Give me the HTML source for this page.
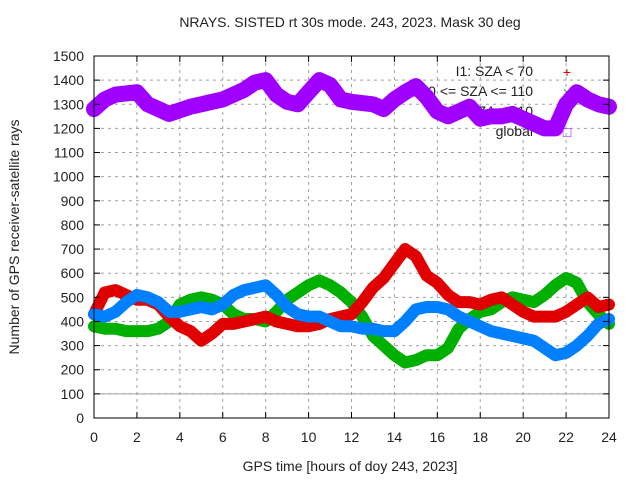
<!DOCTYPE html>
<html><head><meta charset="utf-8"><style>
body{margin:0;background:#fff}
svg text{font-family:"Liberation Sans",sans-serif;font-size:14px;fill:#222}
</style></head><body>
<svg id="c" width="640" height="480" xmlns="http://www.w3.org/2000/svg">
<text x="350" y="27" text-anchor="middle">NRAYS. SISTED rt 30s mode. 243, 2023. Mask 30 deg</text>
<text x="350" y="471" text-anchor="middle">GPS time [hours of doy 243, 2023]</text>
<text transform="translate(19,237) rotate(-90)" text-anchor="middle">Number of GPS receiver-satellite rays</text>
<g id="grid"></g><g id="legend"></g><g id="series"></g><g id="axes"></g>
</svg>
<script>
const hours=[0,0.5,1,1.5,2,2.5,3,3.5,4,4.5,5,5.5,6,6.5,7,7.5,8,8.5,9,9.5,10,10.5,11,11.5,12,12.5,13,13.5,14,14.5,15,15.5,16,16.5,17,17.5,18,18.5,19,19.5,20,20.5,21,21.5,22,22.5,23,23.5,24];
const globalVals=[1280,1320,1340,1345,1350,1300,1280,1260,1275,1290,1300,1310,1320,1340,1360,1390,1400,1340,1310,1300,1350,1400,1380,1320,1310,1305,1300,1280,1320,1350,1375,1330,1270,1250,1270,1290,1240,1250,1250,1260,1240,1220,1200,1200,1300,1350,1320,1300,1290];
const i1Vals=[430,520,530,510,490,490,470,420,380,360,320,350,390,390,400,410,420,400,390,380,380,390,410,420,430,480,540,580,640,700,670,590,560,510,480,480,470,490,500,470,440,420,420,420,440,470,500,460,470];
const i2Vals=[380,370,370,360,360,360,370,400,470,490,500,490,470,430,410,410,400,440,490,520,550,570,550,520,480,420,340,300,260,230,240,260,260,290,370,410,440,450,480,500,490,480,510,550,580,560,480,430,390];
const i3Vals=[430,420,440,480,510,500,480,440,440,450,460,450,470,510,530,540,550,510,460,430,420,420,400,380,380,370,370,360,360,400,450,460,460,450,420,400,380,360,350,340,330,320,290,260,270,300,340,390,410];
const xTicks=[0,2,4,6,8,10,12,14,16,18,20,22,24];
const yTicks=[0,100,200,300,400,500,600,700,800,900,1000,1100,1200,1300,1400,1500];
const legendLabels=["I1: SZA < 70","I2: 70 <= SZA <= 110","I3: SZA > 110","global"];
const X0=94,X1=609,Y0=418,Y1=56;
const sx=h=>X0+(X1-X0)*h/24, sy=v=>Y0-(Y0-Y1)*v/1500;
const NS="http://www.w3.org/2000/svg";
function mk(t,a,p){const e=document.createElementNS(NS,t);for(const k in a)e.setAttribute(k,a[k]);p.appendChild(e);return e;}
const grid=document.getElementById('grid'),axes=document.getElementById('axes');
xTicks.forEach(t=>{
 if(t>0&&t<24){const l=mk('line',{x1:sx(t),x2:sx(t),y1:Y1,y2:Y0,stroke:'#a0a0a0','stroke-dasharray':'3,4'},grid);
 
 }
 const tx=mk('text',{x:sx(t),y:Y0+24,'text-anchor':'middle'},axes);tx.textContent=t;
 
 
 mk('line',{x1:sx(t),x2:sx(t),y1:Y0,y2:Y0-6,stroke:'#000'},axes);
 mk('line',{x1:sx(t),x2:sx(t),y1:Y1,y2:Y1+6,stroke:'#000'},axes);
});
yTicks.forEach(t=>{
 if(t>0&&t<1500){const l=mk('line',{x1:X0,x2:X1,y1:sy(t),y2:sy(t),stroke:'#a0a0a0','stroke-dasharray':'3,4'},grid);
 
 }
 const tx=mk('text',{x:X0-10,y:sy(t)+5,'text-anchor':'end'},axes);tx.textContent=t;
 
 
 mk('line',{x1:X0,x2:X0+6,y1:sy(t),y2:sy(t),stroke:'#000'},axes);
 mk('line',{x1:X1,x2:X1-6,y1:sy(t),y2:sy(t),stroke:'#000'},axes);
});
const ref=mk('line',{x1:X0,x2:X1,y1:sy(100),y2:sy(100),stroke:'#a0a0a0'},grid);


const frame=mk('rect',{x:X0,y:Y1,width:X1-X0,height:Y0-Y1,fill:'none',stroke:'#000'},axes);


const lg=document.getElementById('legend');
const lgCol=['#e00000','#00b000','#0080ff','#a000ff'];
legendLabels.forEach((s,i)=>{
 const t=mk('text',{x:533,y:76+i*20,'text-anchor':'end'},lg);t.textContent=s;
 
 
 mk('text',{x:567,y:77+i*20,'text-anchor':'middle',style:'fill:'+lgCol[i]},lg).textContent=['+','×','*','□'][i];
});
const sg=document.getElementById('series');
function series(vals,col,name,w){
 const pts=hours.map((h,i)=>sx(h)+','+sy(vals[i])).join(' ');
 const p=mk('polyline',{points:pts,fill:'none',stroke:col,'stroke-width':w,'stroke-linejoin':'round','stroke-linecap':'round'},sg);
 
 
}
series(globalVals,'#a000ff','series-global',16);
series(i2Vals,'#00b000','series-i2',12);
series(i1Vals,'#e00000','series-i1',12);
series(i3Vals,'#0080ff','series-i3',12);
</script>
</body></html>
